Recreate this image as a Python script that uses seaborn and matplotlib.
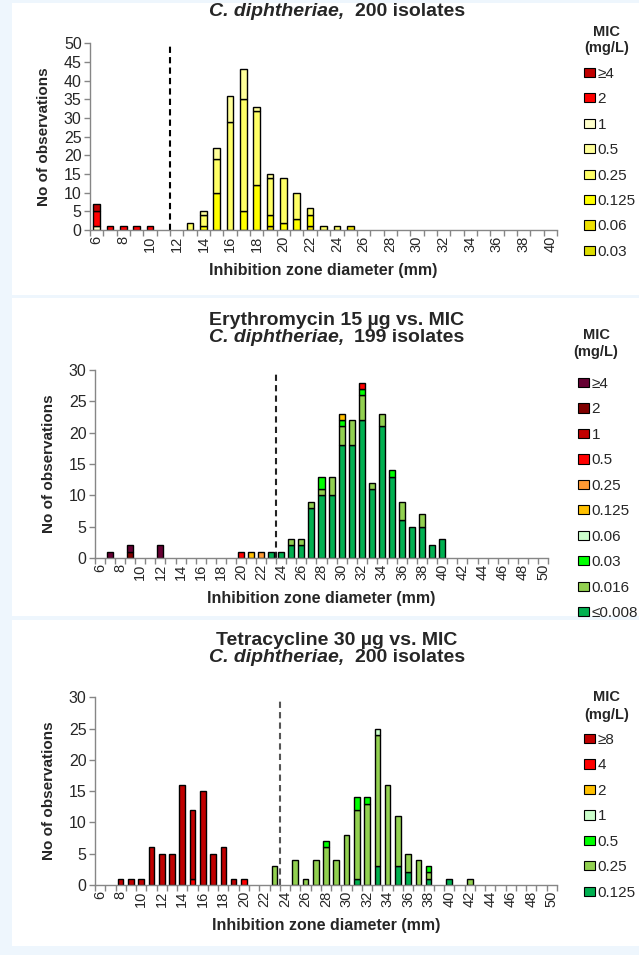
import numpy as np
import pandas as pd
import matplotlib
matplotlib.use("Agg")
import matplotlib.pyplot as plt
from matplotlib.patches import Patch, Rectangle
import seaborn as sns

# ----------------------------------------------------------------
# Data: number of isolates per inhibition zone diameter (mm),
# split by MIC (mg/L).  Dict per MIC level: {zone: count}
# ----------------------------------------------------------------
# Panel 1 - C. diphtheriae, 200 isolates
P1_ZONES = list(range(6, 41))
P1_LEVELS = ["≥4", "2", "1", "0.5", "0.25", "0.125", "0.06", "0.03"]
P1_COLORS = ["#C00000", "#FF0000", "#FFFFCC", "#FFFF99", "#FFFF66",
             "#FFFF00", "#EEE000", "#DDDD00"]
P1_COUNTS = {
    "≥4": {6: 2},
    "2": {6: 4, 7: 1, 8: 1, 9: 1, 10: 1},
    "1": {6: 1},
    "0.5": {14: 1, 15: 3, 16: 7, 17: 8, 18: 1, 19: 1},
    "0.25": {13: 2, 14: 3, 15: 9, 16: 29, 17: 30, 18: 20, 19: 10,
             20: 12, 21: 7, 22: 2, 23: 1, 24: 1},
    "0.125": {14: 1, 15: 10, 17: 5, 18: 12, 19: 3, 20: 2, 21: 3, 22: 3},
    "0.06": {19: 1, 22: 1, 25: 1},
    "0.03": {},
}
P1_BREAK = 11.5

# Panel 2 - Erythromycin 15 µg, 199 isolates
P2_ZONES = list(range(6, 51))
P2_LEVELS = ["≥4", "2", "1", "0.5", "0.25", "0.125", "0.06", "0.03",
             "0.016", "≤0.008"]
P2_COLORS = ["#660033", "#800000", "#C00000", "#FF0000", "#FF9933",
             "#FFC000", "#CCFFCC", "#00FF00", "#92D050", "#00B050"]
P2_COUNTS = {
    "≥4": {7: 1, 9: 1, 12: 2},
    "2": {9: 1},
    "1": {},
    "0.5": {20: 1, 32: 1},
    "0.25": {22: 1},
    "0.125": {21: 1, 30: 1},
    "0.06": {},
    "0.03": {28: 2, 30: 1, 32: 1, 35: 1},
    "0.016": {25: 1, 26: 1, 27: 1, 28: 1, 29: 3, 30: 3, 31: 4, 32: 4,
              33: 1, 34: 2, 36: 3, 38: 2},
    "≤0.008": {23: 1, 24: 1, 25: 2, 26: 2, 27: 8, 28: 10, 29: 10, 30: 18,
               31: 18, 32: 22, 33: 11, 34: 21, 35: 13, 36: 6, 37: 5,
               38: 5, 39: 2, 40: 3},
}
P2_BREAK = 23.5

# Panel 3 - Tetracycline 30 µg, 200 isolates
P3_ZONES = list(range(6, 51))
P3_LEVELS = ["≥8", "4", "2", "1", "0.5", "0.25", "0.125"]
P3_COLORS = ["#C00000", "#FF0000", "#FFC000", "#CCFFCC", "#00FF00",
             "#92D050", "#00B050"]
P3_COUNTS = {
    "≥8": {8: 1, 9: 1, 10: 1, 11: 6, 12: 5, 13: 5, 14: 16, 15: 11,
           16: 15, 17: 5, 18: 6, 19: 1},
    "4": {15: 1, 20: 1},
    "2": {},
    "1": {33: 1},
    "0.5": {28: 1, 31: 2, 32: 1, 38: 1},
    "0.25": {23: 3, 25: 4, 26: 1, 27: 4, 28: 6, 29: 4, 30: 8, 31: 11,
             32: 13, 33: 21, 34: 16, 35: 8, 36: 3, 37: 4, 38: 1, 42: 1},
    "0.125": {31: 1, 33: 3, 35: 3, 36: 2, 38: 1, 40: 1},
}
P3_BREAK = 23.5

# ----------------------------------------------------------------
# Style
# ----------------------------------------------------------------
sns.set_theme(style="white")
plt.rcParams["font.family"] = ["Liberation Sans", "DejaVu Sans"]
AXIS_GREY = "#868686"
BG = "#EEF6FD"

W, H = 639, 955
fig = plt.figure(figsize=(W / 100, H / 100), dpi=100, facecolor=BG)

# white panel backgrounds
for (y0, y1) in [(3, 295), (298, 616), (620, 946)]:
    fig.patches.append(Rectangle((12 / W, 1 - y1 / H), 1, (y1 - y0) / H,
                                 transform=fig.transFigure, facecolor="white",
                                 edgecolor="none", zorder=-5))


def px_axes(x0, x1, ytop, ybot):
    return fig.add_axes([x0 / W, 1 - ybot / H, (x1 - x0) / W, (ybot - ytop) / H])


def draw_panel(ax, zones, levels, colors, counts, ymax, brk, bar_w, brk_color):
    bottoms = pd.Series(0.0, index=zones)
    # stack from the lowest MIC upwards
    for lev, col in zip(levels[::-1], colors[::-1]):
        d = counts[lev]
        if not d:
            continue
        df = pd.DataFrame({"zone": list(d.keys()), "count": list(d.values())})
        df = df.sort_values("zone")
        sns.barplot(data=df, x="zone", y="count", order=zones, color=col,
                    saturation=1, width=bar_w, errorbar=None,
                    edgecolor="black", linewidth=1,
                    bottom=bottoms.loc[df["zone"].values].values, ax=ax)
        bottoms.loc[df["zone"].values] += df["count"].values

    n = len(zones)
    ax.set_xlim(-0.5, n - 0.5)
    ax.set_ylim(0, ymax)
    ax.set_xticks(range(0, n, 2))
    ax.set_xticklabels([str(z) for z in zones[::2]], rotation=90)
    ax.set_xticks(np.arange(-0.5, n, 1), minor=True)
    ax.tick_params(axis="x", which="major", length=0, pad=4, labelsize=10.5)
    ax.tick_params(axis="x", which="minor", bottom=True, length=4,
                   width=1, color=AXIS_GREY, direction="out")
    ax.set_yticks(range(0, ymax + 1, 5))
    ax.tick_params(axis="y", left=True, length=4, width=1, color=AXIS_GREY,
                   labelsize=11.5, pad=2)
    for s in ["top", "right"]:
        ax.spines[s].set_visible(False)
    for s in ["left", "bottom"]:
        ax.spines[s].set_color(AXIS_GREY)
        ax.spines[s].set_linewidth(1)
    ax.axvline(brk - zones[0], ymin=0, ymax=0.985, color=brk_color,
               linestyle=(0, (3, 2)), linewidth=1.5, zorder=0.5)
    ax.set_xlabel("Inhibition zone diameter (mm)", fontsize=11.5,
                  fontweight="bold", labelpad=8)
    ax.set_ylabel("No of observations", fontsize=11, fontweight="bold",
                  labelpad=9)
    ax.set_facecolor("white")

    handles = [Patch(facecolor=c, edgecolor="black", linewidth=0.8)
               for c in colors]
    return handles


def add_legend(ax, handles, labels, x_sq, y_first, x_title, y_mic, y_unit):
    # legend title drawn as separate text lines, entries as a legend box
    fig.text(x_title / W, 1 - y_mic / H, "MIC", ha="center", va="center",
             fontsize=10.5, fontweight="bold")
    fig.text(x_title / W, 1 - y_unit / H, "(mg/L)", ha="center", va="center",
             fontsize=10.5, fontweight="bold")
    leg = ax.legend(handles, labels, loc="upper left",
                    bbox_to_anchor=(x_sq / W, 1 - (y_first - 6) / H),
                    bbox_transform=fig.transFigure, frameon=False,
                    fontsize=11, borderpad=0, borderaxespad=0,
                    handlelength=0.7, handleheight=0.55, handletextpad=0.2,
                    labelspacing=0.75)
    return leg


ax1 = px_axes(90, 557, 43.3, 230)
h1 = draw_panel(ax1, P1_ZONES, P1_LEVELS, P1_COLORS, P1_COUNTS, 50,
                P1_BREAK, 0.5, "black")
add_legend(ax1, h1, P1_LEVELS, 584, 72.7, 607, 32, 48)

ax2 = px_axes(95, 548, 370, 558)
h2 = draw_panel(ax2, P2_ZONES, P2_LEVELS, P2_COLORS, P2_COUNTS, 30,
                P2_BREAK, 0.6, "#222222")
add_legend(ax2, h2, P2_LEVELS, 578, 383, 596, 335, 352)

ax3 = px_axes(95, 557, 697.3, 885)
h3 = draw_panel(ax3, P3_ZONES, P3_LEVELS, P3_COLORS, P3_COUNTS, 30,
                P3_BREAK, 0.55, "#555555")
add_legend(ax3, h3, P3_LEVELS, 584, 739, 607, 697, 715)

# ----------------------------------------------------------------
# Titles
# ----------------------------------------------------------------
TITLE_SIZE = 14
XC = 337
fig.text(XC / W, 1 - 320 / H, "Erythromycin 15 µg vs. MIC", ha="center",
         va="center", fontsize=TITLE_SIZE, fontweight="bold")
fig.text(XC / W, 1 - 640 / H, "Tetracycline 30 µg vs. MIC", ha="center",
         va="center", fontsize=TITLE_SIZE, fontweight="bold")

species_lines = []
for y, n_iso in [(12, "200"), (337, "199"), (657, "200")]:
    t1 = fig.text(XC / W, 1 - y / H, "C. diphtheriae,", ha="left",
                  va="center", fontsize=TITLE_SIZE, fontweight="bold",
                  style="italic")
    t2 = fig.text(0, 0, f"{n_iso} isolates", fontsize=TITLE_SIZE,
                  fontweight="bold", va="center")
    species_lines.append((t1, t2, y))

fig.canvas.draw()
r = fig.canvas.get_renderer()
for t1, t2, y in species_lines:
    w1 = t1.get_window_extent(r).width
    w2 = t2.get_window_extent(r).width
    gap = 10
    x0 = XC - (w1 + gap + w2) / 2
    t1.set_x(x0 / W)
    t2.set_position(((x0 + w1 + gap) / W, 1 - y / H))

fig.savefig("out.png", dpi=100, facecolor=BG)
